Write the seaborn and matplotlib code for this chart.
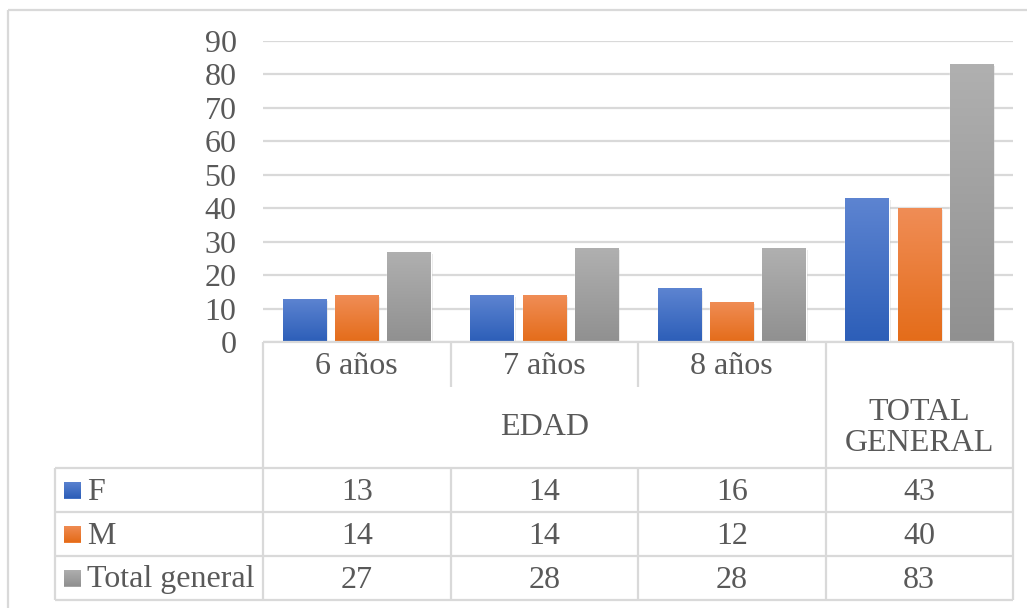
import numpy as np
import pandas as pd
import matplotlib
matplotlib.use('Agg')
import matplotlib.pyplot as plt
import matplotlib.patheffects as pe
from matplotlib.colors import LinearSegmentedColormap
from matplotlib.patches import Rectangle
import seaborn as sns

# ── Data ──────────────────────────────────────────────
categorias = ['6 años', '7 años', '8 años', 'TOTAL GENERAL']
etiquetas_cat = ['6 años', '7 años', '8 años', '']
grupo_edad = 'EDAD'
grupo_total = 'TOTAL\nGENERAL'
series = ['F', 'M', 'Total general']
f_vals = [13, 14, 16, 43]
m_vals = [14, 14, 12, 40]
total_vals = [27, 28, 28, 83]
y_ticks = [0, 10, 20, 30, 40, 50, 60, 70, 80, 90]

valores = {'F': f_vals, 'M': m_vals, 'Total general': total_vals}
df = pd.DataFrame({
    'cat':   categorias * len(series),
    'serie': [s for s in series for _ in categorias],
    'valor': f_vals + m_vals + total_vals,
})

# ── Style ─────────────────────────────────────────────
sns.set_theme(style='white')
plt.rcParams['font.family'] = ['Liberation Serif', 'DejaVu Serif']
txt_c = '#595959'
grid_c = '#D9D9D9'
fs = 23
base_cols = ['#4472C4', '#ED7D31', '#A5A5A5']
grad_cols = {                     # (top, bottom)
    'F': ('#5D84D1', '#2C5EB8'),
    'M': ('#F08D56', '#E46C19'),
    'Total general': ('#B0B0B0', '#909090'),
}

W, H = 1027, 608
fig = plt.figure(figsize=(W / 100, H / 100), dpi=100)
fig.patch.set_facecolor('white')

# plot area in pixels
left, right, top, bottom = 263, 1013, 41, 342
ax = fig.add_axes([left / W, 1 - bottom / H, (right - left) / W, (bottom - top) / H])

sns.barplot(data=df, x='cat', y='valor', hue='serie', order=categorias,
            hue_order=series, palette=base_cols, saturation=1,
            width=0.834, gap=0.17, legend=False, ax=ax, zorder=3)

ax.set_ylim(0, 90)
ax.set_xlim(-0.5, len(categorias) - 0.5)
ax.set_yticks(y_ticks)
ax.set_yticklabels([str(t) for t in y_ticks], fontsize=fs, color=txt_c)
ax.tick_params(axis='y', length=0, pad=19)
ax.tick_params(axis='x', bottom=False, labelbottom=False)
ax.set_xlabel('')
ax.set_ylabel('')
for sp in ax.spines.values():
    sp.set_visible(False)
ax.yaxis.grid(True, color=grid_c, lw=1.6)
ax.set_axisbelow(True)


def gradient(axis, patch, c_top, c_bottom, extent):
    cmap = LinearSegmentedColormap.from_list('g', [c_bottom, c_top])
    grad = np.linspace(0, 1, 256).reshape(-1, 1)
    im = axis.imshow(grad, extent=extent, origin='lower', cmap=cmap,
                     aspect='auto', zorder=patch.get_zorder() + 0.1)
    im.set_clip_path(patch)


# gradient fill on bars
for serie, cont in zip(series, ax.containers):
    c_top, c_bot = grad_cols[serie]
    for bar in cont:
        bar.set_path_effects([pe.SimplePatchShadow(offset=(1.5, -1.5), alpha=0.18,
                                                   shadow_rgbFace='#808080'),
                              pe.Normal()])
        x0, y0 = bar.get_x(), bar.get_y()
        gradient(ax, bar, c_top, c_bot,
                 [x0, x0 + bar.get_width(), y0, y0 + bar.get_height()])
ax.set_ylim(0, 90)
ax.set_xlim(-0.5, len(categorias) - 0.5)

# ── Data table overlay ────────────────────────────────
ov = fig.add_axes([0, 0, 1, 1])
ov.set_xlim(0, W)
ov.set_ylim(H, 0)
ov.axis('off')
ov.patch.set_alpha(0)

n = len(categorias)
edges = left + np.arange(n + 1) * (right - left) / n
centers = (edges[:-1] + edges[1:]) / 2
y_cat, y_grp, rows = 387, 468, [468, 512, 556, 600]
tbl_left = 55


def line(x, y):
    ov.plot(x, y, color=grid_c, lw=1.6, solid_capstyle='butt')


# outer chart border (cropped)
line([8, W], [10, 10])
line([8, 8], [10, H])

# axis line + table rules
line([left, right], [bottom, bottom])
for yy in rows:
    line([tbl_left, right], [yy, yy])
line([tbl_left, tbl_left], [rows[0], rows[-1]])
for i, xx in enumerate(edges):
    if i in (0, n - 1, n):
        line([xx, xx], [bottom, rows[-1]])
    else:
        line([xx, xx], [bottom, y_cat])
        line([xx, xx], [rows[0], rows[-1]])

# category labels
for xc, lab in zip(centers, etiquetas_cat):
    ov.text(xc, (bottom + y_cat) / 2 + 2, lab, ha='center', va='center',
            fontsize=fs, color=txt_c)
ov.text((edges[0] + edges[n - 1]) / 2, (y_cat + y_grp) / 2, grupo_edad,
        ha='center', va='center', fontsize=fs, color=txt_c)
ov.text(centers[-1], (bottom + y_grp) / 2 + 23, grupo_total, ha='center',
        va='center', fontsize=fs, color=txt_c, linespacing=1.1)

# series rows
for r, serie in enumerate(series):
    yc = (rows[r] + rows[r + 1]) / 2
    sq = Rectangle((64, yc - 8.5), 17, 17, facecolor=base_cols[r], edgecolor='none')
    ov.add_patch(sq)
    c_top, c_bot = grad_cols[serie]
    gradient(ov, sq, c_top, c_bot, [64, 81, yc + 8.5, yc - 8.5])
    ov.text(87, yc + 2, serie, ha='left', va='center', fontsize=fs, color=txt_c)
    for xc, v in zip(centers, valores[serie]):
        ov.text(xc, yc + 2, str(v), ha='center', va='center', fontsize=fs, color=txt_c)
ov.set_xlim(0, W)
ov.set_ylim(H, 0)

fig.savefig('out.png', dpi=100)
